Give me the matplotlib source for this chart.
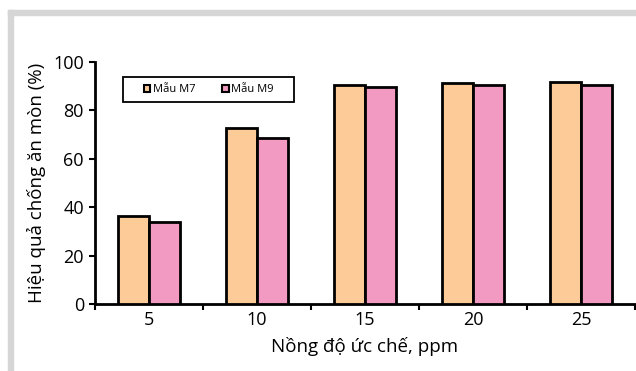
import numpy as np
import matplotlib.pyplot as plt
from matplotlib.patches import Rectangle

plt.rcParams['font.family'] = ['Open Sans', 'DejaVu Sans']

# inhibitor concentration (ppm) and corrosion-protection efficiency (%)
concentrations = ["5", "10", "15", "20", "25"]
eff_m7 = [36.4, 72.9, 90.5, 91.2, 91.6]
eff_m9 = [34.0, 68.6, 89.8, 90.5, 90.6]
series_names = ["Mẫu M7", "Mẫu M9"]


def draw_chart(path):
    fig = plt.figure(figsize=(6.36, 3.71), dpi=100)

    # light grey frame lines at top and left
    fig.patches.append(Rectangle((8 / 636, 0), 5 / 636, 1 - 10 / 371,
                                 transform=fig.transFigure, color='#d6d6d6', zorder=0))
    fig.patches.append(Rectangle((8 / 636, 1 - 15 / 371), 1 - 8 / 636, 5 / 371,
                                 transform=fig.transFigure, color='#d6d6d6', zorder=0))

    ax = fig.add_axes([95 / 636, 1 - 304 / 371, 540 / 636, 242 / 371])
    x = np.arange(len(concentrations))
    w = 0.283
    ax.bar(x - w / 2, eff_m7, w, color='#fdcb98', edgecolor='black', linewidth=2,
           label=series_names[0], zorder=3)
    ax.bar(x + w / 2, eff_m9, w, color='#f39ac2', edgecolor='black', linewidth=2,
           label=series_names[1], zorder=3)

    ax.set_xlim(-0.5, len(concentrations) - 0.5)
    ax.set_ylim(0, 100)
    ax.set_yticks([0, 20, 40, 60, 80, 100])
    ax.set_xticks(x)
    ax.set_xticklabels(concentrations)
    ax.set_xticks(np.arange(len(concentrations) + 1) - 0.5, minor=True)
    ax.tick_params(axis='x', which='major', length=0, labelsize=13, pad=5)
    ax.tick_params(axis='x', which='minor', length=4, width=1.5, direction='out')
    ax.tick_params(axis='y', length=4, width=1.5, direction='out', labelsize=13, pad=4)

    for side in ['top', 'right']:
        ax.spines[side].set_visible(False)
    for side in ['left', 'bottom']:
        ax.spines[side].set_linewidth(2)

    ax.set_ylabel("Hiệu quả chống ăn mòn (%)", fontsize=13.5, labelpad=5)
    ax.set_xlabel("Nồng độ ức chế, ppm", fontsize=13.5, labelpad=6)

    # legend entries centred inside a separately drawn box
    box_x0, box_x1 = 28 / 540, 199 / 540
    box_y0, box_y1 = 1 - 40 / 242, 1 - 15 / 242
    ax.add_patch(Rectangle((box_x0, box_y0), box_x1 - box_x0, box_y1 - box_y0,
                           transform=ax.transAxes, facecolor='white',
                           edgecolor='black', linewidth=1.3, zorder=4))
    leg = ax.legend(loc='center',
                    bbox_to_anchor=((box_x0 + box_x1) / 2, (box_y0 + box_y1) / 2),
                    ncol=2, fontsize=8, frameon=False,
                    handlelength=0.6, handleheight=0.6, handletextpad=0.2,
                    columnspacing=2.4, borderpad=0, borderaxespad=0)
    leg.set_zorder(5)
    for h in leg.legend_handles:
        h.set_linewidth(1.5)

    fig.savefig(path, dpi=100)


draw_chart("out.png")
